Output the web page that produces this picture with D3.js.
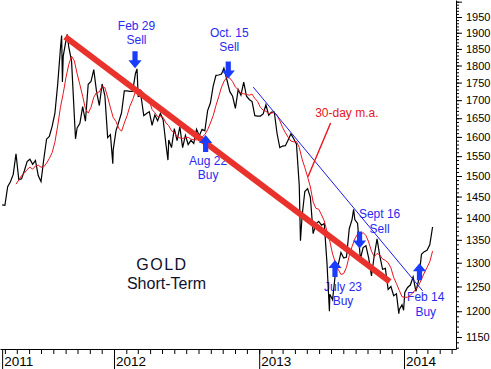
<!DOCTYPE html>
<html><head><meta charset="utf-8">
<script src="https://cdn.jsdelivr.net/npm/d3@7"></script>
<style>html,body{margin:0;padding:0;background:#fff;overflow:hidden}</style>
</head><body>
<svg id="c" width="491" height="369"></svg>
<script>
// ---------- DATA ----------
const priceDates = [
"2011-03-25","2011-04-01","2011-04-08","2011-04-15","2011-04-22","2011-04-29","2011-05-06","2011-05-13","2011-05-20","2011-05-27",
"2011-06-03","2011-06-10","2011-06-17","2011-06-24","2011-07-01","2011-07-08","2011-07-15","2011-07-22","2011-07-29","2011-08-05",
"2011-08-12","2011-08-19","2011-08-22","2011-08-24","2011-08-26","2011-09-02","2011-09-05","2011-09-09","2011-09-16","2011-09-23",
"2011-09-26","2011-09-30","2011-10-07","2011-10-14","2011-10-21","2011-10-28","2011-11-04","2011-11-11","2011-11-18","2011-11-25",
"2011-12-02","2011-12-09","2011-12-16","2011-12-23","2011-12-29","2011-12-30",
"2012-01-06","2012-01-13","2012-01-20","2012-01-27","2012-02-03","2012-02-10","2012-02-17","2012-02-24","2012-02-28","2012-03-02",
"2012-03-09","2012-03-16","2012-03-23","2012-03-30","2012-04-06","2012-04-13","2012-04-20","2012-04-27","2012-05-04","2012-05-11",
"2012-05-16","2012-05-18","2012-05-25","2012-06-01","2012-06-08","2012-06-15","2012-06-22","2012-06-29","2012-07-06","2012-07-13",
"2012-07-20","2012-07-27","2012-08-03","2012-08-10","2012-08-17","2012-08-24","2012-08-31","2012-09-07","2012-09-14","2012-09-21",
"2012-09-28","2012-10-04","2012-10-12","2012-10-19","2012-10-26","2012-11-02","2012-11-09","2012-11-16","2012-11-23","2012-11-30",
"2012-12-07","2012-12-14","2012-12-21","2012-12-28",
"2013-01-04","2013-01-11","2013-01-18","2013-01-25","2013-02-01","2013-02-08","2013-02-15","2013-02-22","2013-03-01","2013-03-08",
"2013-03-15","2013-03-22","2013-03-29","2013-04-05","2013-04-12","2013-04-15","2013-04-19","2013-04-26","2013-05-03","2013-05-10",
"2013-05-17","2013-05-24","2013-05-31","2013-06-07","2013-06-14","2013-06-21","2013-06-27","2013-06-28","2013-07-05","2013-07-12",
"2013-07-19","2013-07-26","2013-08-02","2013-08-09","2013-08-16","2013-08-23","2013-08-27","2013-08-30","2013-09-06","2013-09-13",
"2013-09-20","2013-09-27","2013-10-04","2013-10-11","2013-10-18","2013-10-25","2013-11-01","2013-11-08","2013-11-15","2013-11-22",
"2013-11-29","2013-12-06","2013-12-13","2013-12-19","2013-12-20","2013-12-27","2013-12-31",
"2014-01-03","2014-01-10","2014-01-17","2014-01-24","2014-01-31","2014-02-07","2014-02-14","2014-02-21","2014-02-28","2014-03-07",
"2014-03-14"];
const priceValues = [
1430,1429,1474,1486,1504,1556,1491,1493,1513,1536,
1542,1529,1539,1501,1486,1542,1594,1601,1628,1663,
1744,1852,1891,1752,1828,1876,1895,1856,1813,1657,
1595,1624,1636,1682,1642,1745,1753,1788,1724,1685,
1746,1713,1598,1606,1531,1566,
1616,1640,1665,1726,1726,1725,1725,1776,1790,1710,
1712,1657,1663,1668,1631,1659,1643,1663,1645,1580,
1540,1592,1572,1622,1590,1627,1572,1604,1580,1591,
1583,1620,1603,1620,1616,1671,1692,1740,1771,1772,
1775,1792,1756,1724,1711,1677,1730,1714,1751,1711,
1702,1696,1657,1656,
1656,1662,1687,1658,1667,1667,1609,1572,1576,1577,
1592,1608,1595,1581,1476,1348,1403,1462,1469,1448,
1364,1386,1392,1383,1387,1297,1200,1234,1223,1277,
1295,1322,1310,1312,1375,1396,1420,1396,1387,1308,
1333,1337,1310,1272,1315,1352,1315,1286,1288,1244,
1250,1231,1235,1195,1203,1213,1202,
1238,1248,1253,1270,1240,1263,1318,1324,1327,1339,
1379];

// 30-day moving average, weekly readings starting 2011-04-29
const maStart = "2011-04-29";
const maValues = [
1480,1490,1501,1507,1516,1522,1517,1525,1527,1522,1523,1532,1544,1559,1586,1629,1680,1719,1765,1803,
1828,1814,1776,1744,1711,1676,1664,1680,1708,1722,1723,1740,1735,1709,1679,1652,1641,1623,1615,1637,
1657,1683,1701,1724,1731,1729,1718,1707,1698,1674,1665,1654,1655,1652,1637,1630,1616,1612,1600,1597,
1596,1598,1599,1594,1593,1592,1597,1600,1606,1619,1637,1657,1685,1710,1737,1755,1766,1763,1753,1737,
1730,1719,1718,1716,1714,1717,1705,1696,1680,1672,1669,1663,1664,1666,1658,1643,1625,1611,1599,1589,
1587,1588,1572,1543,1521,1498,1473,1437,1422,1420,1407,1393,1368,1347,1319,1300,1286,1275,1277,1290,
1315,1335,1352,1363,1362,1366,1360,1345,1325,1313,1320,1317,1308,1305,1300,1289,1269,1256,1242,1229,
1228,1228,1232,1238,1244,1252,1265,1278,1290,1302,1325];

// Trend lines
const redTrendDates = ["2011-08-31","2013-11-26"];
const redTrendPrices = [1887,1260];
const blueTrendDates = ["2012-12-17","2014-02-17"];
const blueTrendPrices = [1737,1241];
const maPointerDates = ["2013-06-30","2013-05-04"];
const maPointerPrices = [1637,1498];
const maLabel = "30-day m.a.";
const maLabelDate = "2013-05-22";
const maLabelPrice = 1664;

// Signals
const signalLine1 = ["Feb 29","Oct. 15","Aug 22","July 23","Sept 16","Feb 14"];
const signalLine2 = ["Sell","Sell","Buy","Buy","Sell","Buy"];
const signalDates = ["2012-02-23","2012-10-15","2012-08-19","2013-07-11","2013-09-11","2014-02-09"];
const signalPrices = [1792,1762,1605,1306,1331,1299];
const signalDirs = ["down","down","up","up","down","up"];

// Axes
const yMajorTicks = [1150,1200,1250,1300,1350,1400,1450,1500,1550,1600,1650,1700,1750,1800,1850,1900,1950,2000];
const yLabelMax = 1950;
const yearLabels = ["2011","2012","2013","2014"];
const yearDates = ["2011-03-25","2012-01-01","2013-01-01","2014-01-01"];
const titleLines = ["GOLD","Short-Term"];

// ---------- LAYOUT ----------
const W = 491, H = 369, plotRight = 456, plotBottom = 349;
const parse = d3.utcParse("%Y-%m-%d");
const svg = d3.select("#c");
const FONT = "'Liberation Sans', Arial, sans-serif";

const x0 = d3.scaleUtc().domain([parse("2012-01-01"), parse("2014-01-01")]).range([114, 404]);
const x = d3.scaleUtc().domain([x0.invert(0), x0.invert(plotRight)]).range([0, plotRight]);
const y = d3.scaleLog().domain([1127.5, 2005.5]).range([plotBottom, 0]);

// annotation text layout offsets (px relative to arrow tip)
const textLayout = [
  {dx: 1.5, l2: -28, l1: -42},
  {dx: 1, l2: -32, l1: -46},
  {dx: 2.5, l2: 40, l1: 26},
  {dx: 8, l2: 40.5, l1: 26.5},
  {dx: 20, l2: -20, l1: -35},
  {dx: 6.3, l2: 48.7, l1: 34}
];

// ---------- AXES ----------
const months = d3.utcMonth.range(parse("2011-04-01"), parse("2014-05-15"));
svg.append("g").attr("transform", `translate(0,${plotBottom})`)
  .call(d3.axisBottom(x).tickValues(months).tickSize(5).tickSizeOuter(0).tickFormat(""))
  .call(g => g.selectAll("line,path").attr("stroke", "#000"));

svg.append("g").attr("transform", `translate(0,${plotBottom})`)
  .call(d3.axisBottom(x).tickValues(yearDates.map(parse)).tickSize(H - plotBottom).tickSizeOuter(0)
    .tickFormat((d, i) => yearLabels[i]))
  .call(g => g.select(".domain").remove())
  .call(g => g.selectAll("line").attr("stroke", "#000"))
  .call(g => g.selectAll("text").attr("text-anchor", "start").attr("x", 1.5).attr("y", 7)
      .attr("dy", "0.71em").attr("fill", "#000").style("font", `13.5px ${FONT}`));

const minorTicks = d3.range(1130, 2001, 10);
svg.append("g").attr("transform", `translate(${plotRight},0)`)
  .call(d3.axisRight(y).tickValues(minorTicks).tickSize(3).tickSizeOuter(0).tickFormat(""))
  .call(g => g.selectAll("line,path").attr("stroke", "#000"));
svg.append("g").attr("transform", `translate(${plotRight},0)`)
  .call(d3.axisRight(y).tickValues(yMajorTicks).tickSize(6).tickSizeOuter(0).tickPadding(4)
    .tickFormat(d => d > yLabelMax ? "" : d))
  .call(g => g.select(".domain").remove())
  .call(g => g.selectAll("line").attr("stroke", "#000"))
  .call(g => g.selectAll("text").attr("fill", "#000").style("font", `11px ${FONT}`));

// ---------- TEXT ----------
svg.append("text").attr("x", 162).attr("y", 264).attr("dy", "0.35em").attr("text-anchor", "middle")
  .attr("letter-spacing", 1.5).style("font", `16px ${FONT}`).attr("fill", "#10102a").text(titleLines[0]);
svg.append("text").attr("x", 166.5).attr("y", 283.5).attr("dy", "0.35em").attr("text-anchor", "middle")
  .style("font", `16px ${FONT}`).attr("fill", "#10102a").text(titleLines[1]);

const sig = signalDates.map((d, i) => ({
  date: parse(d), price: signalPrices[i], dir: signalDirs[i],
  l1: signalLine1[i], l2: signalLine2[i], lay: textLayout[i]
}));
const labG = svg.append("g").style("font", `12px ${FONT}`).attr("fill", "#2a2af2").attr("text-anchor", "middle");
sig.forEach(s => {
  const tx = x(s.date), ty = y(s.price);
  labG.append("text").attr("x", tx + s.lay.dx).attr("y", ty + s.lay.l1).attr("dy", "0.35em").text(s.l1);
  labG.append("text").attr("x", tx + s.lay.dx).attr("y", ty + s.lay.l2).attr("dy", "0.35em").text(s.l2);
});

svg.append("text").attr("x", x(parse(maLabelDate))).attr("y", y(maLabelPrice)).attr("dy", "0.35em")
  .style("font", `12px ${FONT}`).attr("fill", "#e8141e").text(maLabel);

// ---------- SERIES ----------
const price = priceDates.map((d, i) => ({date: parse(d), v: priceValues[i]}));
const maDates = d3.utcFriday.range(parse(maStart), d3.utcFriday.offset(parse(maStart), maValues.length));
const ma = maValues.map((v, i) => ({date: maDates[i], v}));
const line = d3.line().x(d => x(d.date)).y(d => y(d.v));

svg.append("path").datum(price).attr("d", line).attr("fill", "none").attr("stroke", "#000").attr("stroke-width", 1.2);
svg.append("path").datum(ma).attr("d", line).attr("fill", "none").attr("stroke", "#e8141e").attr("stroke-width", 1);

const mk = (ds, ps) => ds.map((d, i) => ({date: parse(d), v: ps[i]}));
svg.append("path").datum(mk(redTrendDates, redTrendPrices)).attr("d", line)
  .attr("stroke", "#e8322b").attr("stroke-width", 6).attr("fill", "none");
svg.append("path").datum(mk(blueTrendDates, blueTrendPrices)).attr("d", line)
  .attr("stroke", "#1a1ae6").attr("stroke-width", 1).attr("fill", "none");
svg.append("path").datum(mk(maPointerDates, maPointerPrices)).attr("d", line)
  .attr("stroke", "#e8141e").attr("stroke-width", 1.4).attr("fill", "none");

// arrows
const arrowG = svg.append("g").attr("fill", "#1a3cff");
sig.forEach(s => {
  const tx = x(s.date), ty = y(s.price), k = s.dir === "down" ? -1 : 1;
  const pts = [[-2.6, 17], [2.6, 17], [2.6, 8], [6.6, 8], [0, 0], [-6.6, 8], [-2.6, 8]]
    .map(([a, b]) => [tx + a, ty + k * b]);
  arrowG.append("path").attr("d", "M" + pts.map(p => p.join(",")).join("L") + "Z");
});
</script>
</body></html>
